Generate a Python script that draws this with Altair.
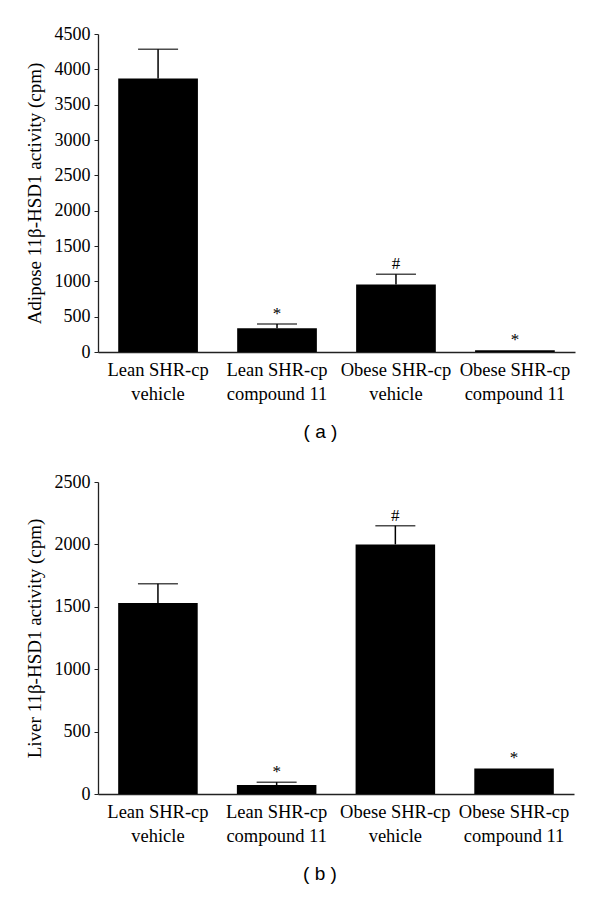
import altair as alt
import pandas as pd

categories = [
    "Lean SHR-cp|vehicle",
    "Lean SHR-cp|compound 11",
    "Obese SHR-cp|vehicle",
    "Obese SHR-cp|compound 11",
]
adipose_mean = [3870, 335, 955, 25]
adipose_upper = [4285, 395, 1100, None]
adipose_mark = ["", "*", "#", "*"]
adipose_ticks = [0, 500, 1000, 1500, 2000, 2500, 3000, 3500, 4000, 4500]

liver_mean = [1530, 72, 2000, 205]
liver_upper = [1685, 95, 2150, None]
liver_mark = ["", "*", "#", "*"]
liver_ticks = [0, 500, 1000, 1500, 2000, 2500]

SERIF = "Liberation Serif"


def panel(means, uppers, marks, ticks, ytitle, caption, width, height):
    df = pd.DataFrame({
        "group": categories,
        "mean": means,
        "upper": [u if u is not None else m for u, m in zip(uppers, means)],
        "has_err": [u is not None for u in uppers],
        "mark": marks,
    })
    base = alt.Chart(df)
    x = alt.X(
        "group:N",
        sort=categories,
        scale=alt.Scale(paddingInner=0.33, paddingOuter=0.17),
        axis=alt.Axis(
            title=None,
            labelExpr="split(datum.label, '|')",
            labelAngle=0,
            ticks=False,
            labelPadding=8,
            labelFontSize=18.5,
            labelLineHeight=24,
        ),
    )
    y_scale = alt.Scale(domain=[ticks[0], ticks[-1]], nice=False)
    y_axis = alt.Axis(title=ytitle, values=ticks, format="d", labelOverlap=False,
                      tickSize=4, labelPadding=4, titlePadding=10)
    bars = base.mark_bar(color="black").encode(
        x=x, y=alt.Y("mean:Q", scale=y_scale, axis=y_axis)
    )
    err = base.transform_filter("datum.has_err").mark_rule(color="black", strokeWidth=1.5).encode(
        x=x, y=alt.Y("mean:Q", scale=y_scale, axis=y_axis), y2="upper:Q"
    )
    cap = base.transform_filter("datum.has_err").mark_tick(
        color="black", size=40, thickness=1.5, orient="horizontal"
    ).encode(x=x, y=alt.Y("upper:Q", scale=y_scale, axis=y_axis))
    txt = base.mark_text(
        baseline="bottom", dy=-1, font=SERIF, fontSize=17, color="black"
    ).encode(x=x, y=alt.Y("upper:Q", scale=y_scale, axis=y_axis), text="mark:N")
    return alt.layer(bars, err, cap, txt).properties(
        width=width,
        height=height,
        title=alt.TitleParams(
            caption,
            orient="bottom",
            anchor="middle",
            font="Liberation Sans",
            fontSize=19,
            fontWeight="normal",
            color="black",
            offset=20,
            dx=-16,
        ),
    )


a = panel(adipose_mean, adipose_upper, adipose_mark, adipose_ticks,
          "Adipose 11β-HSD1 activity (cpm)", "( a )", 477, 318)
b = panel(liver_mean, liver_upper, liver_mark, liver_ticks,
          "Liver 11β-HSD1 activity (cpm)", "( b )", 476, 312)

chart = (
    alt.vconcat(a, b, spacing=31)
    .properties(padding={"left": 17, "top": 17, "right": 5, "bottom": 5})
    .configure_view(stroke=None)
    .configure_axis(
        grid=False,
        labelFont=SERIF,
        titleFont=SERIF,
        labelFontSize=18,
        titleFontSize=19,
        titleFontWeight="normal",
        labelColor="black",
        titleColor="black",
        domainColor="#222222",
        tickColor="#222222",
        domainWidth=1.3,
    )
)

chart.save("out.html", embed_options={"renderer": "svg", "actions": False})
